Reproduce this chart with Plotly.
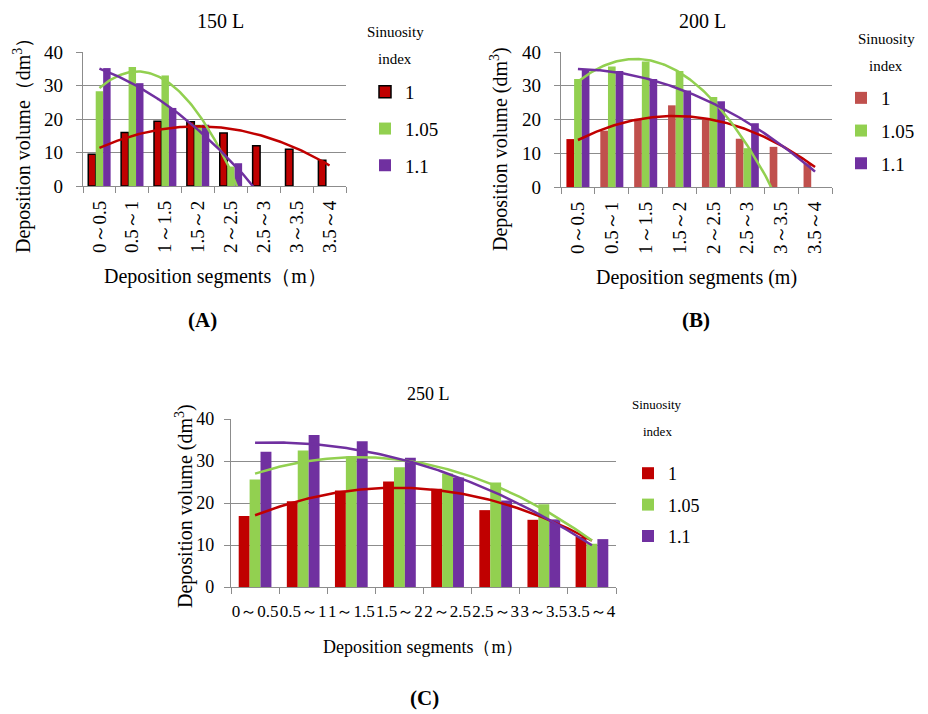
import numpy as np
import plotly.graph_objects as go

# ---------------- data ----------------
categories = ["0～0.5", "0.5～1", "1～1.5", "1.5～2", "2～2.5", "2.5～3", "3～3.5", "3.5～4"]
series_names = ["1", "1.05", "1.1"]
y_ticks = [0, 10, 20, 30, 40]

a_s1 = [9.5, 16.0, 19.3, 19.2, 15.8, 12.0, 11.0, 7.7]
a_s105 = [28.3, 35.5, 33.0, 18.3, 5.8, None, None, None]
a_s11 = [35.2, 30.7, 23.3, 18.3, 6.8, None, None, None]

b_s1 = [14.2, 16.7, 20.2, 24.2, 20.0, 14.3, 11.9, 7.0]
b_s105 = [32.0, 35.7, 37.2, 34.4, 26.7, 11.5, None, None]
b_s11 = [34.9, 34.4, 32.0, 28.6, 25.4, 18.9, None, None]

c_s1 = [16.9, 20.4, 23.0, 25.1, 23.4, 18.3, 16.0, 12.0]
c_s105 = [25.6, 32.5, 31.1, 28.5, 27.0, 24.9, 19.7, 10.3]
c_s11 = [32.2, 36.2, 34.7, 30.8, 26.1, 20.6, 16.1, 11.4]

titles = ["150 L", "200 L", "250 L"]
panel_labels = ["(A)", "(B)", "(C)"]

# ---------------- styling ----------------
W, H = 928, 714
RED = "#C00000"
RED_LIGHT = "#C0504D"
GREEN = "#92D050"
PURPLE = "#7030A0"
GRID = "#8C8C8C"
FONT = "Liberation Serif"


def fx(p):
    return p / W


def fy(p):
    return 1 - p / H


def trend(vals):
    y = np.array([v for v in vals if v is not None], dtype=float)
    x = np.arange(1, len(y) + 1)
    coef = np.polyfit(x, y, 2)
    xs = np.linspace(1, len(vals), 141)
    return xs, np.polyval(coef, xs)


fig = go.Figure()

panels = [
    dict(ax="", data=[a_s1, a_s105, a_s11], box=(83, 346, 52, 186), legend="legend"),
    dict(ax="2", data=[b_s1, b_s105, b_s11], box=(561, 832, 52, 187), legend="legend2"),
    dict(ax="3", data=[c_s1, c_s105, c_s11], box=(231, 616, 419, 587), legend="legend3"),
]
colors = [RED, GREEN, PURPLE]

for pi, p in enumerate(panels):
    xa = "x" + p["ax"]
    ya = "y" + p["ax"]
    xov = "x" + str(4 + pi)
    for si, (vals, name) in enumerate(zip(p["data"], series_names)):
        col = colors[si]
        line = dict(width=0)
        if pi == 0 and si == 0:
            line = dict(width=1.5, color="black")
        if pi == 1 and si == 0:
            # first bar of panel B is darker than the rest
            fig.add_trace(go.Bar(x=categories, y=[None] + vals[1:], name=name,
                                 marker=dict(color=RED_LIGHT, line=line),
                                 xaxis=xa, yaxis=ya, offsetgroup=str(si),
                                 legend=p["legend"], legendgroup=f"{pi}{si}"))
            fig.add_trace(go.Bar(x=categories, y=[vals[0]] + [None] * 7, name=name,
                                 marker=dict(color=RED, line=line),
                                 xaxis=xa, yaxis=ya, offsetgroup=str(si),
                                 showlegend=False, legendgroup=f"{pi}{si}"))
        else:
            fig.add_trace(go.Bar(x=categories, y=vals, name=name,
                                 marker=dict(color=col, line=line),
                                 xaxis=xa, yaxis=ya, offsetgroup=str(si),
                                 legend=p["legend"], legendgroup=f"{pi}{si}"))
    for si, vals in enumerate(p["data"]):
        xs, ys = trend(vals)
        fig.add_trace(go.Scatter(x=xs, y=ys, mode="lines",
                                 line=dict(color=colors[si], width=2.5),
                                 xaxis=xov, yaxis=ya, showlegend=False,
                                 hoverinfo="skip"))

layout = dict(
    template="none",
    width=W, height=H,
    margin=dict(l=0, r=0, t=0, b=0, autoexpand=False),
    paper_bgcolor="white", plot_bgcolor="white",
    barmode="group", bargap=0.32, bargroupgap=0,
    font=dict(family=FONT, color="black"),
    showlegend=True,
)

tick_sizes = [19, 19, 18]
xtick_sizes = [19, 19, 17]
for pi, p in enumerate(panels):
    x0, x1, y0, y1 = p["box"]
    sfx = p["ax"]
    layout["xaxis" + sfx] = dict(
        domain=[fx(x0), fx(x1)], anchor="y" + sfx, type="category",
        categoryorder="array", categoryarray=categories,
        tickson="boundaries", ticks="outside", ticklen=6, tickcolor=GRID,
        showline=True, linecolor=GRID, linewidth=1.3, showgrid=False,
        zeroline=False, automargin=False,
        tickangle=-90 if pi < 2 else 0,
        tickfont=dict(size=xtick_sizes[pi], family=FONT, color="black"),
        ticklabelstandoff=6 if pi < 2 else 8,
        fixedrange=True,
    )
    layout["yaxis" + sfx] = dict(
        domain=[fy(y1), fy(y0)], anchor="x" + sfx, range=[0, 40],
        tickvals=y_ticks, showgrid=True, gridcolor=GRID, gridwidth=1.3,
        ticks="outside", ticklen=6, tickcolor=GRID,
        showline=True, linecolor=GRID, linewidth=1.3, zeroline=False,
        automargin=False,
        tickfont=dict(size=tick_sizes[pi], family=FONT, color="black"),
        ticklabelstandoff=9 if pi < 2 else 6,
        fixedrange=True,
    )
    layout["xaxis" + str(4 + pi)] = dict(
        overlaying="x" + sfx, anchor="y" + sfx, range=[0.5, 8.5],
        visible=False, fixedrange=True, automargin=False,
    )

legend_pos = [(365, 73, 9, 19), (841, 79, 5, 19), (628, 455, 5, 18)]
for pi, (lx, ly, gap, fs) in enumerate(legend_pos):
    key = "legend" if pi == 0 else "legend" + str(pi + 1)
    layout[key] = dict(x=fx(lx), y=fy(ly), xanchor="left", yanchor="top",
                       font=dict(size=fs, family=FONT, color="black"),
                       bgcolor="rgba(0,0,0,0)", borderwidth=0,
                       tracegroupgap=gap, itemwidth=30, traceorder="grouped")

ann = []


def add_text(text, px, py, size, angle=0, bold=False):
    ann.append(dict(text=("<b>%s</b>" % text) if bold else text,
                    x=fx(px), y=fy(py), xref="paper", yref="paper",
                    xanchor="center", yanchor="middle", showarrow=False,
                    textangle=angle, font=dict(size=size, family=FONT, color="black")))


# subplot titles
add_text(titles[0], 220, 21, 20)
add_text(titles[1], 702, 21, 20)
add_text(titles[2], 428, 394, 18)
# legend headings
add_text("Sinuosity", 395, 32, 15)
add_text("index", 395, 59, 15)
add_text("Sinuosity", 886, 39, 15)
add_text("index", 886, 66, 15)
add_text("Sinuosity", 657, 404, 13)
add_text("index", 657, 431, 13)
# axis titles
add_text("Deposition segments（m）", 215, 277, 20)
add_text("Deposition segments (m)", 696, 278, 20)
add_text("Deposition segments（m）", 423, 647, 18)
add_text("Deposition volume（dm<sup>3</sup>）", 23, 141, 20, angle=-90)
add_text("Deposition volume (dm<sup>3</sup>)", 499, 149, 20, angle=-90)
add_text("Deposition volume (dm<sup>3</sup>)", 184, 506, 20, angle=-90)
# panel labels
add_text(panel_labels[0], 202, 320, 21, bold=True)
add_text(panel_labels[1], 696, 320, 21, bold=True)
add_text(panel_labels[2], 424, 698, 21, bold=True)

layout["annotations"] = ann
fig.update_layout(**layout)
fig.write_html("out.html",
               config={"displayModeBar": False},
               post_script="document.body.style.margin='0px';document.body.style.overflow='hidden';")
